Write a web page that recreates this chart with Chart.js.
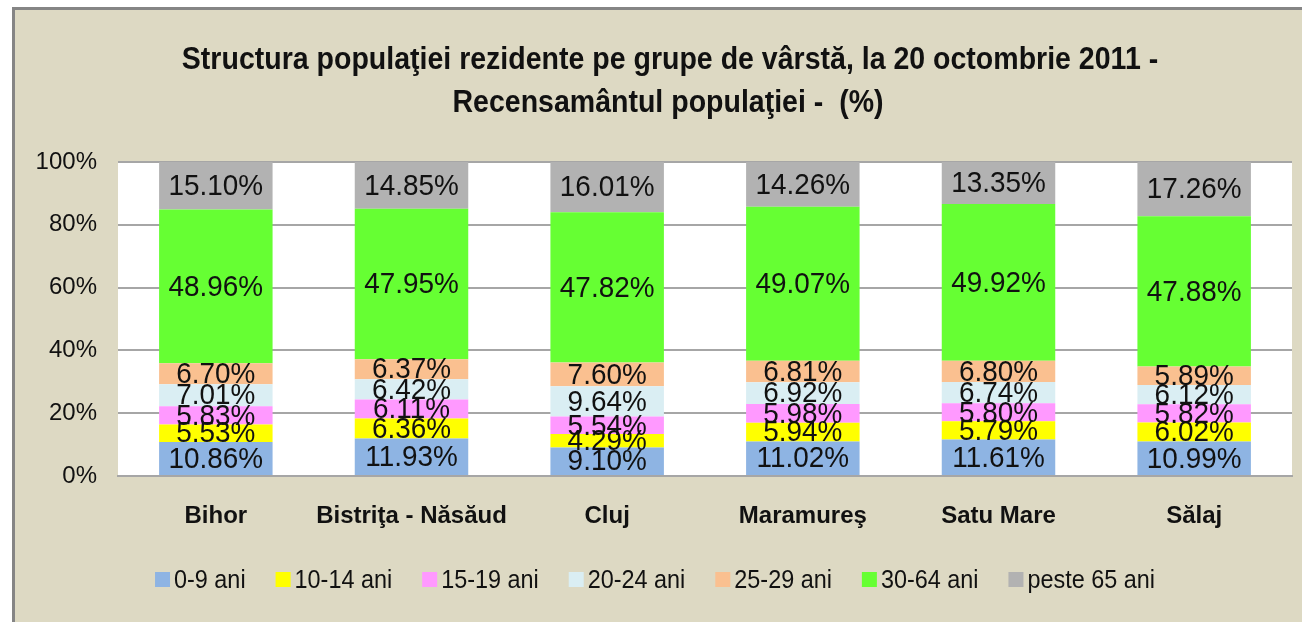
<!DOCTYPE html>
<html>
<head>
<meta charset="utf-8">
<script src="https://cdn.jsdelivr.net/npm/chart.js@4.4.0/dist/chart.umd.min.js"></script>
<style>
  html, body { margin: 0; padding: 0; background: #fff; }
  #wrap { position: relative; width: 1302px; height: 622px; }
</style>
</head>
<body>
<div id="wrap"><canvas id="chart1"></canvas></div>
<script>
const judete = ["Bihor", "Bistriţa - Năsăud", "Cluj", "Maramureş", "Satu Mare", "Sălaj"];
const grupe = ["0-9 ani", "10-14 ani", "15-19 ani", "20-24 ani", "25-29 ani", "30-64 ani", "peste 65 ani"];

const v0_9 = [10.86, 11.93, 9.10, 11.02, 11.61, 10.99];
const v10_14 = [5.53, 6.36, 4.29, 5.94, 5.79, 6.02];
const v15_19 = [5.83, 6.11, 5.54, 5.98, 5.80, 5.82];
const v20_24 = [7.01, 6.42, 9.64, 6.92, 6.74, 6.12];
const v25_29 = [6.70, 6.37, 7.60, 6.81, 6.80, 5.89];
const v30_64 = [48.96, 47.95, 47.82, 49.07, 49.92, 47.88];
const v65 = [15.10, 14.85, 16.01, 14.26, 13.35, 17.26];

const yTicks = [0, 20, 40, 60, 80, 100];

const titleLines = [
  "Structura populaţiei rezidente pe grupe de vârstă, la 20 octombrie 2011 -",
  "Recensamântul populaţiei -  (%)"
];

const culori = [
  "#8eb4e3", // albastru
  "#ffff00", // galben
  "#ff99ff", // roz
  "#daeef3", // bleu deschis
  "#fac090", // piersica
  "#66ff33", // verde
  "#b2b2b2", // gri
];

const NORMAL = "'Liberation Sans', Arial, sans-serif";

const serii = [v0_9, v10_14, v15_19, v20_24, v25_29, v30_64, v65];

// text "ingust" (nu exista Arial Narrow, asa ca il comprimam pe orizontala)
function textIngust(ctx, txt, x, y, sx) {
  ctx.save();
  ctx.translate(x, y);
  ctx.scale(sx, 1);
  ctx.fillText(txt, 0, 0);
  ctx.restore();
}

// fundal, chenar si zona alba a graficului
const fundal = {
  id: "fundal",
  beforeDraw(chart) {
    const ctx = chart.ctx;
    const a = chart.chartArea;
    ctx.save();
    ctx.fillStyle = "#ffffff";
    ctx.fillRect(0, 0, chart.width, chart.height);
    ctx.fillStyle = "#ddd9c3";
    ctx.fillRect(13, 8, chart.width, chart.height);
    ctx.strokeStyle = "#858585";
    ctx.lineWidth = 3;
    ctx.strokeRect(13.5, 8.5, chart.width + 10, chart.height + 10);
    ctx.fillStyle = "#ffffff";
    ctx.fillRect(a.left, a.top, a.right - a.left, a.bottom - a.top);
    ctx.restore();
  },
};

// etichete pe segmente, titlu si legenda
const texte = {
  id: "texte",
  afterDraw(chart) {
    const ctx = chart.ctx;
    ctx.save();

    ctx.font = "30px " + NORMAL;
    ctx.fillStyle = "#111";
    ctx.textAlign = "center";
    ctx.textBaseline = "middle";
    chart.data.datasets.forEach((ds, i) => {
      const meta = chart.getDatasetMeta(i);
      meta.data.forEach((bar, j) => {
        const mid = (bar.y + bar.base) / 2;
        textIngust(ctx, ds.data[j].toFixed(2) + "%", bar.x, mid + 1, 0.93);
      });
    });

    // titlu
    ctx.font = "bold 31px " + NORMAL;
    ctx.fillStyle = "#111";
    textIngust(ctx, titleLines[0], 670, 60, 0.92);
    textIngust(ctx, titleLines[1], 668, 103, 0.92);

    // legenda
    const sx = 0.9;
    ctx.font = "26px " + NORMAL;
    ctx.textAlign = "left";
    const boxW = 15;
    const gapText = 4;
    const gapItem = 30;
    const widths = chart.data.datasets.map((ds) => boxW + gapText + ctx.measureText(ds.label).width * sx);
    const total = widths.reduce((s, w) => s + w, 0) + gapItem * (widths.length - 1);
    let x = 655 - total / 2;
    const y = 580;
    chart.data.datasets.forEach((ds, i) => {
      ctx.fillStyle = ds.backgroundColor;
      ctx.fillRect(x, y - 8, boxW, boxW);
      ctx.fillStyle = "#111";
      textIngust(ctx, ds.label, x + boxW + gapText, y + 1, sx);
      x += widths[i] + gapItem;
    });

    ctx.restore();
  },
};

new Chart(document.getElementById("chart1").getContext("2d"), {
  type: "bar",
  data: {
    labels: judete,
    datasets: serii.map((vals, i) => ({
      label: grupe[i],
      data: vals,
      backgroundColor: culori[i],
      borderWidth: 0,
      categoryPercentage: 1,
      barPercentage: 0.58,
    })),
  },
  options: {
    responsive: true,
    maintainAspectRatio: false,
    animation: false,
    layout: { padding: { left: 14, right: 10, top: 162, bottom: 0 } },
    plugins: {
      legend: { display: false },
      title: { display: false },
      tooltip: { enabled: false },
    },
    scales: {
      x: {
        stacked: true,
        grid: { display: false, drawTicks: false },
        border: { display: true, color: "#a6a6a6", width: 2 },
        ticks: {
          padding: 26,
          color: "#111",
          font: { family: NORMAL, size: 24, weight: "bold" },
          autoSkip: false,
          maxRotation: 0,
        },
        afterFit(scale) { scale.height = 146; },
      },
      y: {
        stacked: true,
        min: 0,
        max: 100,
        afterBuildTicks(scale) { scale.ticks = yTicks.map((v) => ({ value: v })); },
        grid: { color: "#a6a6a6", lineWidth: 2, drawTicks: false },
        border: { display: false },
        ticks: {
          padding: 21,
          color: "#111",
          font: { family: NORMAL, size: 24 },
          callback: (v) => v + "%",
        },
        afterFit(scale) { scale.width = 104; },
      },
    },
  },
  plugins: [fundal, texte],
});
</script>
</body>
</html>
